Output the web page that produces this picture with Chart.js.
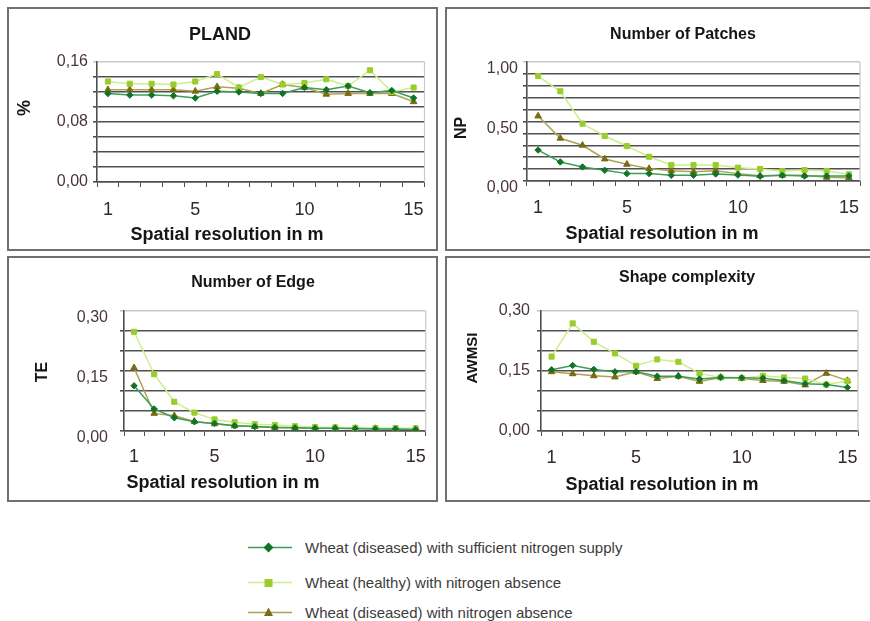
<!DOCTYPE html>
<html>
<head>
<meta charset="utf-8">
<title>Landscape metrics vs. spatial resolution</title>
<script src="https://cdn.jsdelivr.net/npm/chart.js@4"></script>
<style>
  html, body { margin: 0; padding: 0; background: #ffffff; }
  body { width: 870px; height: 621px; position: relative; overflow: hidden;
         font-family: "Liberation Sans", Arial, sans-serif; }
  .panel { position: absolute; border: 2px solid #707070; box-sizing: border-box; background: #fff; }
  .panel canvas { position: absolute; left: 0; top: 0; }
  .legend-row { position: absolute; left: 248px; height: 20px; display: flex; align-items: center;
                white-space: nowrap; font-size: 15px; color: #3c3c3c; }
  .legend-row svg { margin-right: 13px; flex: none; }
</style>
</head>
<body>

<div class="panel" style="left:7px;top:7px;width:431px;height:244px;"><canvas id="cPland" width="427" height="240"></canvas></div>
<div class="panel" style="left:445px;top:7px;width:430px;height:244px;"><canvas id="cNp" width="426" height="240"></canvas></div>
<div class="panel" style="left:7px;top:256px;width:431px;height:246px;"><canvas id="cTe" width="427" height="242"></canvas></div>
<div class="panel" style="left:445px;top:256px;width:430px;height:246px;"><canvas id="cAwmsi" width="426" height="242"></canvas></div>
<div id="legend"></div>

<script>
// ---- data -------------------------------------------------------------
const resolution = [1, 2, 3, 4, 5, 6, 7, 8, 9, 10, 11, 12, 13, 14, 15];
const xTickLabels = [1, 5, 10, 15];

const seriesNames = [
  'Wheat (diseased) with sufficient nitrogen supply',
  'Wheat (healthy) with nitrogen absence',
  'Wheat (diseased) with nitrogen absence'
];

// PLAND (%)
const plandSufficient = [0.118, 0.116, 0.116, 0.115, 0.112, 0.121, 0.120, 0.118, 0.118, 0.126, 0.123, 0.128, 0.119, 0.122, 0.112];
const plandHealthy    = [0.134, 0.131, 0.131, 0.130, 0.134, 0.144, 0.126, 0.140, 0.130, 0.132, 0.137, 0.128, 0.149, 0.120, 0.126];
const plandDiseased   = [0.123, 0.123, 0.123, 0.123, 0.121, 0.127, 0.125, 0.118, 0.130, 0.126, 0.117, 0.118, 0.118, 0.118, 0.107];

// Number of patches (NP)
const npSufficient = [0.260, 0.160, 0.118, 0.090, 0.062, 0.062, 0.048, 0.048, 0.059, 0.050, 0.040, 0.048, 0.042, 0.042, 0.042];
const npHealthy    = [0.882, 0.754, 0.482, 0.378, 0.294, 0.204, 0.134, 0.134, 0.134, 0.112, 0.101, 0.084, 0.092, 0.084, 0.056];
const npDiseased   = [0.546, 0.359, 0.300, 0.185, 0.140, 0.104, 0.087, 0.078, 0.087, 0.062, 0.045, 0.048, 0.048, 0.031, 0.028];

// Number of edge (TE)
const teSufficient = [0.113, 0.055, 0.033, 0.023, 0.019, 0.013, 0.011, 0.009, 0.008, 0.007, 0.007, 0.006, 0.005, 0.005, 0.004];
const teHealthy    = [0.248, 0.142, 0.073, 0.046, 0.029, 0.022, 0.017, 0.015, 0.012, 0.010, 0.009, 0.008, 0.0075, 0.0075, 0.0067];
const teDiseased   = [0.158, 0.044, 0.038, 0.024, 0.018, 0.013, 0.011, 0.009, 0.008, 0.007, 0.007, 0.006, 0.006, 0.005, 0.005];

// Shape complexity (AWMSI)
const awmsiSufficient = [0.153, 0.164, 0.154, 0.148, 0.148, 0.137, 0.137, 0.130, 0.134, 0.133, 0.132, 0.126, 0.118, 0.116, 0.109];
const awmsiHealthy    = [0.186, 0.269, 0.223, 0.194, 0.163, 0.179, 0.173, 0.144, 0.134, 0.132, 0.138, 0.134, 0.131, 0.116, 0.125];
const awmsiDiseased   = [0.148, 0.143, 0.138, 0.135, 0.148, 0.131, 0.137, 0.124, 0.134, 0.131, 0.126, 0.124, 0.115, 0.144, 0.126];

// ---- styling ----------------------------------------------------------
const FONT = '"Liberation Sans", Arial, sans-serif';
const AXIS = '#505050';
const FRAME = '#c9c9c9';

const seriesStyles = [
  { line: '#3c9e58', marker: '#117326', style: 'rectRot',  radius: 3.2 },
  { line: '#cdee8c', marker: '#9acd2c', style: 'rect',     radius: 3.6 },
  { line: '#aca452', marker: '#7b6b14', style: 'triangle', radius: 3.8 }
];

const decimalComma = v => v.toFixed(2).replace('.', ',');

// Draws the panel heading, the axis titles and the light right edge of the plot frame.
const captions = {
  id: 'captions',
  beforeDatasetsDraw(chart) {
    const { ctx, chartArea } = chart;
    ctx.save();
    ctx.strokeStyle = FRAME;
    ctx.lineWidth = 1.2;
    ctx.beginPath();
    ctx.moveTo(chartArea.right, chartArea.top);
    ctx.lineTo(chartArea.right, chartArea.bottom);
    ctx.stroke();
    ctx.restore();
  },
  afterDraw(chart, args, o) {
    const { ctx } = chart;
    ctx.save();
    ctx.fillStyle = '#161616';
    ctx.textAlign = 'center';
    ctx.textBaseline = 'middle';
    ctx.font = `bold ${o.titleSize}px ${FONT}`;
    ctx.fillText(o.title, o.titleAt[0], o.titleAt[1]);
    ctx.font = `bold 18px ${FONT}`;
    ctx.fillText(o.xTitle, o.xTitleAt[0], o.xTitleAt[1]);
    ctx.translate(o.yTitleAt[0], o.yTitleAt[1]);
    ctx.rotate(-Math.PI / 2);
    ctx.font = `bold ${o.yTitleSize}px ${FONT}`;
    ctx.fillText(o.yTitle, 0, 0);
    ctx.restore();
  }
};

function makePanel(id, p) {
  const values = p.values;
  return new Chart(document.getElementById(id), {
    type: 'line',
    data: {
      labels: resolution,
      datasets: seriesNames.map((name, i) => ({
        label: name,
        data: values[i],
        borderColor: seriesStyles[i].line,
        backgroundColor: seriesStyles[i].marker,
        pointBackgroundColor: seriesStyles[i].marker,
        pointBorderColor: seriesStyles[i].marker,
        pointBorderWidth: 1,
        pointStyle: seriesStyles[i].style,
        pointRadius: seriesStyles[i].radius,
        borderWidth: 1.5,
        tension: 0,
        fill: false
      }))
    },
    options: {
      responsive: false,
      animation: false,
      devicePixelRatio: 1,
      layout: { padding: { left: 0, top: p.top, right: p.right, bottom: 0 } },
      plugins: {
        legend: { display: false },
        tooltip: { enabled: false },
        captions: {
          title: p.title, titleSize: p.titleSize, titleAt: p.titleAt,
          xTitle: 'Spatial resolution in m', xTitleAt: p.xTitleAt,
          yTitle: p.yTitle, yTitleAt: p.yTitleAt, yTitleSize: p.yTitleSize
        }
      },
      scales: {
        x: {
          type: 'category',
          offset: true,
          grid: { offset: true, drawOnChartArea: false, drawTicks: true, tickLength: 5, color: AXIS, lineWidth: 1 },
          border: { display: true, color: AXIS, width: 1.6 },
          ticks: {
            autoSkip: false, maxRotation: 0, minRotation: 0,
            padding: p.xPad, color: '#33292a',
            font: { size: 18, family: FONT },
            callback(value) {
              const lab = this.getLabelForValue(value);
              return xTickLabels.includes(Number(lab)) ? String(lab) : '';
            }
          },
          afterFit(scale) { scale.height = p.xAxisH; }
        },
        y: {
          min: 0, max: p.max,
          grid: {
            color: c => (c.tick && Math.abs(c.tick.value - p.max) < 1e-9) ? FRAME : AXIS,
            lineWidth: 1.6, tickLength: 4
          },
          border: { display: true, color: AXIS, width: 1.6 },
          ticks: {
            autoSkip: false,
            stepSize: p.step, padding: p.yPad, labelOffset: p.yShift,
            color: '#4a3636', font: { size: 16, family: FONT },
            callback(value) {
              return Math.round(value / p.step) % p.every === 0 ? decimalComma(value) : '';
            }
          },
          afterFit(scale) { scale.width = p.yAxisW; }
        }
      }
    },
    plugins: [captions]
  });
}

makePanel('cPland', {
  values: [plandSufficient, plandHealthy, plandDiseased],
  title: 'PLAND', titleSize: 18, titleAt: [211, 26],
  yTitle: '%', yTitleSize: 18, yTitleAt: [16, 99], xTitleAt: [218, 226],
  max: 0.16, step: 0.02, every: 4,
  top: 53, right: 11, yAxisW: 88, xAxisH: 67, xPad: 12, yPad: 5, yShift: 0
});

makePanel('cNp', {
  values: [npSufficient, npHealthy, npDiseased],
  title: 'Number of Patches', titleSize: 16, titleAt: [236, 26],
  yTitle: 'NP', yTitleSize: 16, yTitleAt: [15, 119], xTitleAt: [215, 225],
  max: 1.0, step: 0.1, every: 5,
  top: 53, right: 13, yAxisW: 80, xAxisH: 68, xPad: 11, yPad: 5, yShift: 7
});

makePanel('cTe', {
  values: [teSufficient, teHealthy, teDiseased],
  title: 'Number of Edge', titleSize: 16, titleAt: [244, 25],
  yTitle: 'TE', yTitleSize: 16, yTitleAt: [34, 114], xTitleAt: [214, 225],
  max: 0.30, step: 0.05, every: 3,
  top: 53, right: 10, yAxisW: 115, xAxisH: 69, xPad: 10, yPad: 12, yShift: 7
});

makePanel('cAwmsi', {
  values: [awmsiSufficient, awmsiHealthy, awmsiDiseased],
  title: 'Shape complexity', titleSize: 16, titleAt: [240, 20],
  yTitle: 'AWMSI', yTitleSize: 15, yTitleAt: [26, 100], xTitleAt: [215, 227],
  max: 0.30, step: 0.05, every: 3,
  top: 53, right: 15, yAxisW: 94, xAxisH: 69, xPad: 11, yPad: 7, yShift: 0
});

// ---- shared legend ----------------------------------------------------
const legendRowsY = [537, 572, 602];
const markerSvg = s => {
  if (s.style === 'rectRot') return `<rect x="17" y="3" width="7" height="7" fill="${s.marker}" transform="rotate(45 20.5 6.5)"/>`;
  if (s.style === 'rect') return `<rect x="16.5" y="3" width="8" height="8" fill="${s.marker}"/>`;
  return `<polygon points="20.5,1.5 25,10 16,10" fill="${s.marker}"/>`;
};
const legend = document.getElementById('legend');
seriesNames.forEach((name, i) => {
  const s = seriesStyles[i];
  const row = document.createElement('div');
  row.className = 'legend-row';
  row.style.top = legendRowsY[i] + 'px';
  row.innerHTML =
    `<svg width="44" height="13" viewBox="0 0 44 13"><line x1="0" y1="6.5" x2="44" y2="6.5" stroke="${s.line}" stroke-width="1.6"/>${markerSvg(s)}</svg>` +
    `<span>${name}</span>`;
  legend.appendChild(row);
});
</script>
</body>
</html>
